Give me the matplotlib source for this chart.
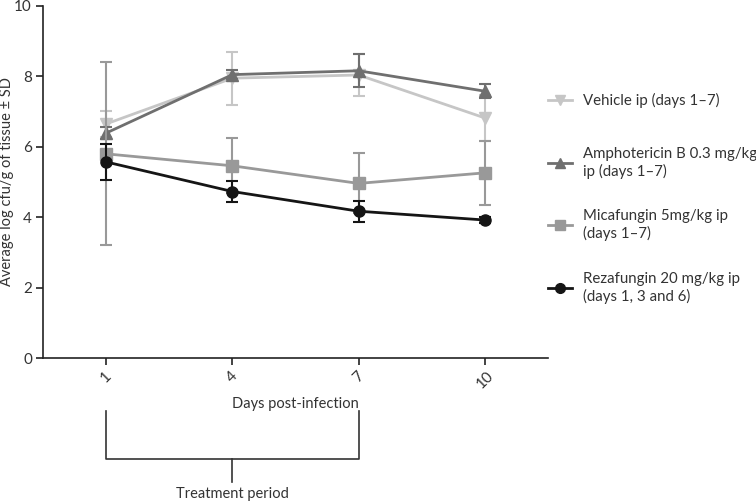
import matplotlib
matplotlib.use("Agg")
import matplotlib.pyplot as plt
from matplotlib.lines import Line2D

plt.rcParams['font.family'] = ['Lato', 'DejaVu Sans']

# ------------------ Data ------------------
days = ['1', '4', '7', '10']

vehicle = [6.65, 7.95, 8.04, 6.82]
vehicle_sd = [0.37, 0.75, 0.6, 0.65]

ampho = [6.39, 8.05, 8.16, 7.58]
ampho_sd = [0.18, 0.12, 0.47, 0.2]

mica = [5.80, 5.46, 4.96, 5.26]
mica_sd = [2.6, 0.78, 0.85, 0.9]

reza = [5.57, 4.73, 4.17, 3.92]
reza_sd = [0.5, 0.29, 0.3, 0.08]

labels = ['Vehicle ip (days 1\u20137)',
          'Amphotericin B 0.3 mg/kg\nip (days 1\u20137)',
          'Micafungin 5mg/kg ip\n(days 1\u20137)',
          'Rezafungin 20 mg/kg ip\n(days 1, 3 and 6)']
colors = ['#c6c6c6', '#6f6f6f', '#999999', '#151515']
markers = ['v', '^', 's', 'o']

# ------------------ Figure ------------------
fig = plt.figure(figsize=(7.56, 5.03), dpi=100)
ax = fig.add_axes([43/756, 1-358/503, (548-43)/756, (358-6)/503])

x = range(len(days))
series = [(vehicle, vehicle_sd), (ampho, ampho_sd), (mica, mica_sd), (reza, reza_sd)]
for i, (m, sd) in enumerate(series):
    ax.errorbar(x, m, yerr=sd, color=colors[i], marker=markers[i], markersize=8,
                linewidth=2, elinewidth=1.5, capsize=4, capthick=1.5, zorder=2+i)

ax.set_xlim(-0.5, 3.5)
ax.set_ylim(0, 10)
ax.set_yticks([0, 2, 4, 6, 8, 10])
ax.set_xticks(list(x))
ax.set_xticklabels(days, rotation=45, ha='center')
ax.spines['top'].set_visible(False)
ax.spines['right'].set_visible(False)
for s in ['left', 'bottom']:
    ax.spines[s].set_linewidth(1.2)
    ax.spines[s].set_color('#222222')
ax.tick_params(direction='out', length=5, width=1.2, labelsize=11, colors='#222222',
               labelcolor='#333333', pad=3)
ax.set_xlabel('Days post-infection', fontsize=10.5, color='#333333', labelpad=4)
ax.set_ylabel('Average log cfu/g of tissue \u00b1 SD', fontsize=10.5, color='#333333')
ax.yaxis.set_label_coords(-0.058, 0.5)

# -------- treatment period bracket --------
tr = ax.get_xaxis_transform()
yb_top, yb_bot, yb_tick = -0.150, -0.287, -0.352
ax.plot([0, 0, 2, 2], [yb_top, yb_bot, yb_bot, yb_top], color='#333333', lw=1.2,
        transform=tr, clip_on=False)
ax.plot([1, 1], [yb_bot, yb_tick], color='#333333', lw=1.2, transform=tr, clip_on=False)
ax.text(1, -0.387, 'Treatment period', transform=tr, ha='center', va='center',
        fontsize=10.5, color='#333333')

# -------- legend (drawn manually) --------
ys = [100, 163, 225, 288]
for i in range(4):
    yf = 1 - ys[i]/503
    fig.add_artist(Line2D([548/756, 572/756], [yf, yf], color=colors[i], lw=2,
                          transform=fig.transFigure))
    fig.add_artist(Line2D([560/756], [yf], color=colors[i], marker=markers[i],
                          markersize=7, transform=fig.transFigure))
    fig.text(583/756, yf, labels[i], ha='left', va='center', fontsize=10.8,
             color='#333333', linespacing=1.2)

fig.savefig('out.png', dpi=100)
